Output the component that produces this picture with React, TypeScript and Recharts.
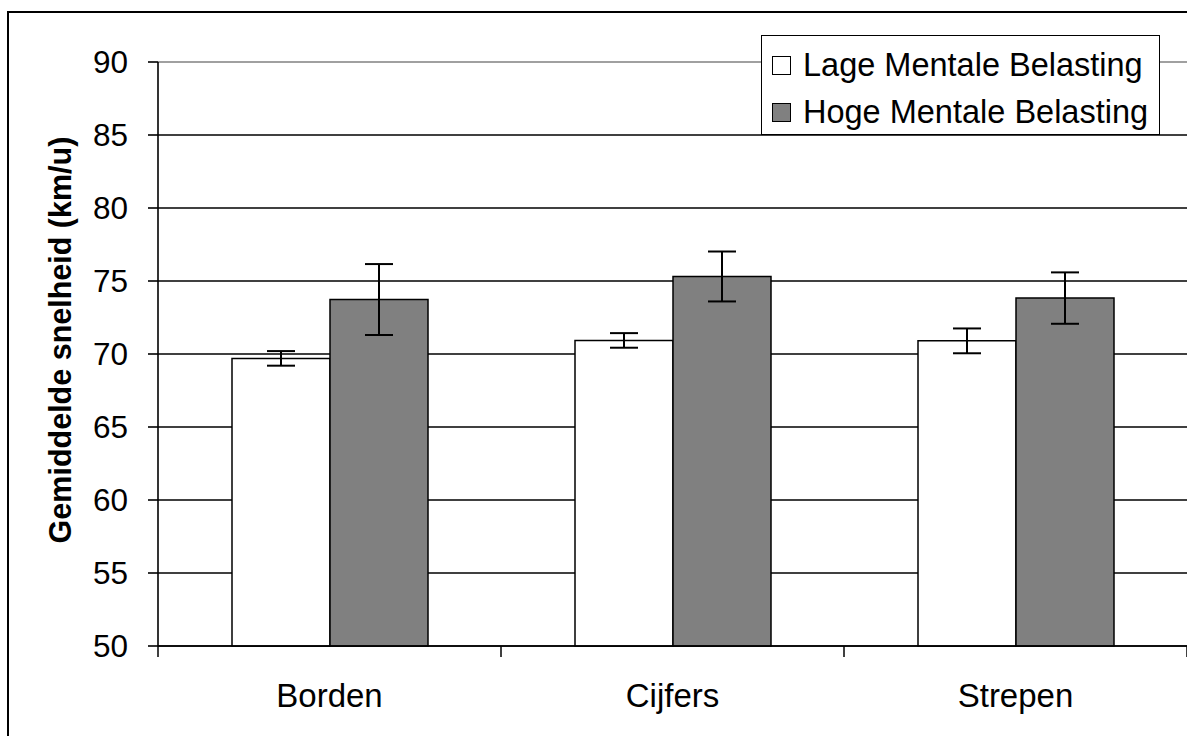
import React from 'react';
import { BarChart, Bar, XAxis, YAxis, CartesianGrid, ErrorBar, Label } from 'recharts';

// Gemiddelde snelheid per conditie
const categories = ['Borden', 'Cijfers', 'Strepen'];
const lageMean = [69.7, 70.93, 70.9];
const lageErr = [0.5, 0.5, 0.85];
const hogeMean = [73.73, 75.31, 73.83];
const hogeErr = [2.43, 1.71, 1.76];
const yTicks = [50, 55, 60, 65, 70, 75, 80, 85, 90];

const seriesNames = ['Lage Mentale Belasting', 'Hoge Mentale Belasting'];
const seriesFills = ['#ffffff', '#808080'];

const data = categories.map((cat, i) => ({
  cat,
  lage: lageMean[i],
  lageErr: lageErr[i],
  hoge: hogeMean[i],
  hogeErr: hogeErr[i],
}));

const FONT = '"Liberation Sans", Arial, sans-serif';

function XTick(props: any) {
  const { x, y, payload } = props;
  const half = payload.offset ?? 0;
  const last = payload.index === categories.length - 1;
  return (
    <g>
      <line x1={x - half} x2={x - half} y1={y} y2={y + 11} stroke="#000" strokeWidth={1.5} />
      {last && <line x1={x + half} x2={x + half} y1={y} y2={y + 11} stroke="#000" strokeWidth={1.5} />}
      <text x={x} y={y + 61} textAnchor="middle" fontSize={33} fill="#000" fontFamily={FONT}>
        {payload.value}
      </text>
    </g>
  );
}

function renderYLabel(props: any) {
  const vb = props.viewBox;
  const cx = vb.x + 51;
  const cy = vb.y + vb.height / 2 - 14;
  return (
    <text
      x={cx}
      y={cy}
      transform={`rotate(-90 ${cx} ${cy})`}
      textAnchor="middle"
      dominantBaseline="central"
      fontSize={30.5}
      fontWeight="bold"
      fill="#000"
      fontFamily={FONT}
    >
      Gemiddelde snelheid (km/u)
    </text>
  );
}

function gridLine(props: any) {
  const top = Math.abs(props.y1 - props.y) < 1;
  return (
    <line
      key={props.key}
      x1={props.x1}
      x2={props.x2}
      y1={props.y1}
      y2={props.y2}
      stroke={top ? '#808080' : '#000'}
      strokeWidth={1.6}
    />
  );
}

function LegendBox() {
  return (
    <div
      style={{
        position: 'absolute',
        left: 752,
        top: 22,
        boxSizing: 'border-box',
        width: 399,
        height: 100,
        border: '1.5px solid #000',
        background: '#fff',
        paddingTop: 6,
        fontFamily: FONT,
      }}
    >
      {seriesNames.map((name, i) => (
        <div key={name} style={{ display: 'flex', alignItems: 'center', height: 47 }}>
          <span
            style={{
              boxSizing: 'border-box',
              width: 19,
              height: 19,
              marginLeft: 10,
              marginRight: 12,
              border: '1.5px solid #000',
              background: seriesFills[i],
            }}
          />
          <span style={{ fontSize: 32.5, color: '#000', lineHeight: '47px', whiteSpace: 'nowrap' }}>{name}</span>
        </div>
      ))}
    </div>
  );
}

export default function App() {
  return (
    <div
      style={{
        position: 'fixed',
        left: 0,
        top: 0,
        width: 1187,
        height: 736,
        overflow: 'hidden',
        background: '#fff',
        fontFamily: FONT,
      }}
    >
      <div
        style={{
          position: 'absolute',
          left: 7,
          top: 11,
          width: 1260,
          height: 800,
          border: '2px solid #000',
        }}
      >
        <BarChart
          width={1218}
          height={733}
          data={data}
          margin={{ top: 49, right: 40, bottom: 0, left: 0 }}
          barGap={0}
        >
          <CartesianGrid vertical={false} horizontal={gridLine} />
          <XAxis
            dataKey="cat"
            height={100}
            interval={0}
            tickLine={false}
            tickSize={0}
            tickMargin={0}
            axisLine={{ stroke: '#000', strokeWidth: 1.6 }}
            tick={<XTick />}
          />
          <YAxis
            type="number"
            domain={[50, 90]}
            ticks={yTicks}
            interval={0}
            width={149}
            tickSize={10}
            tickMargin={20}
            axisLine={{ stroke: '#000', strokeWidth: 1.6 }}
            tickLine={{ stroke: '#000', strokeWidth: 1.6 }}
            tick={{ fill: '#000', fontSize: 31.5, fontFamily: FONT }}
          >
            <Label content={renderYLabel} />
          </YAxis>
          <Bar
            dataKey="lage"
            name={seriesNames[0]}
            fill={seriesFills[0]}
            stroke="#000"
            strokeWidth={1.5}
            barSize={98}
            isAnimationActive={false}
          >
            <ErrorBar dataKey="lageErr" width={14} stroke="#000" strokeWidth={2} />
          </Bar>
          <Bar
            dataKey="hoge"
            name={seriesNames[1]}
            fill={seriesFills[1]}
            stroke="#000"
            strokeWidth={1.5}
            barSize={98}
            isAnimationActive={false}
          >
            <ErrorBar dataKey="hogeErr" width={14} stroke="#000" strokeWidth={2} />
          </Bar>
        </BarChart>
        <LegendBox />
      </div>
    </div>
  );
}
